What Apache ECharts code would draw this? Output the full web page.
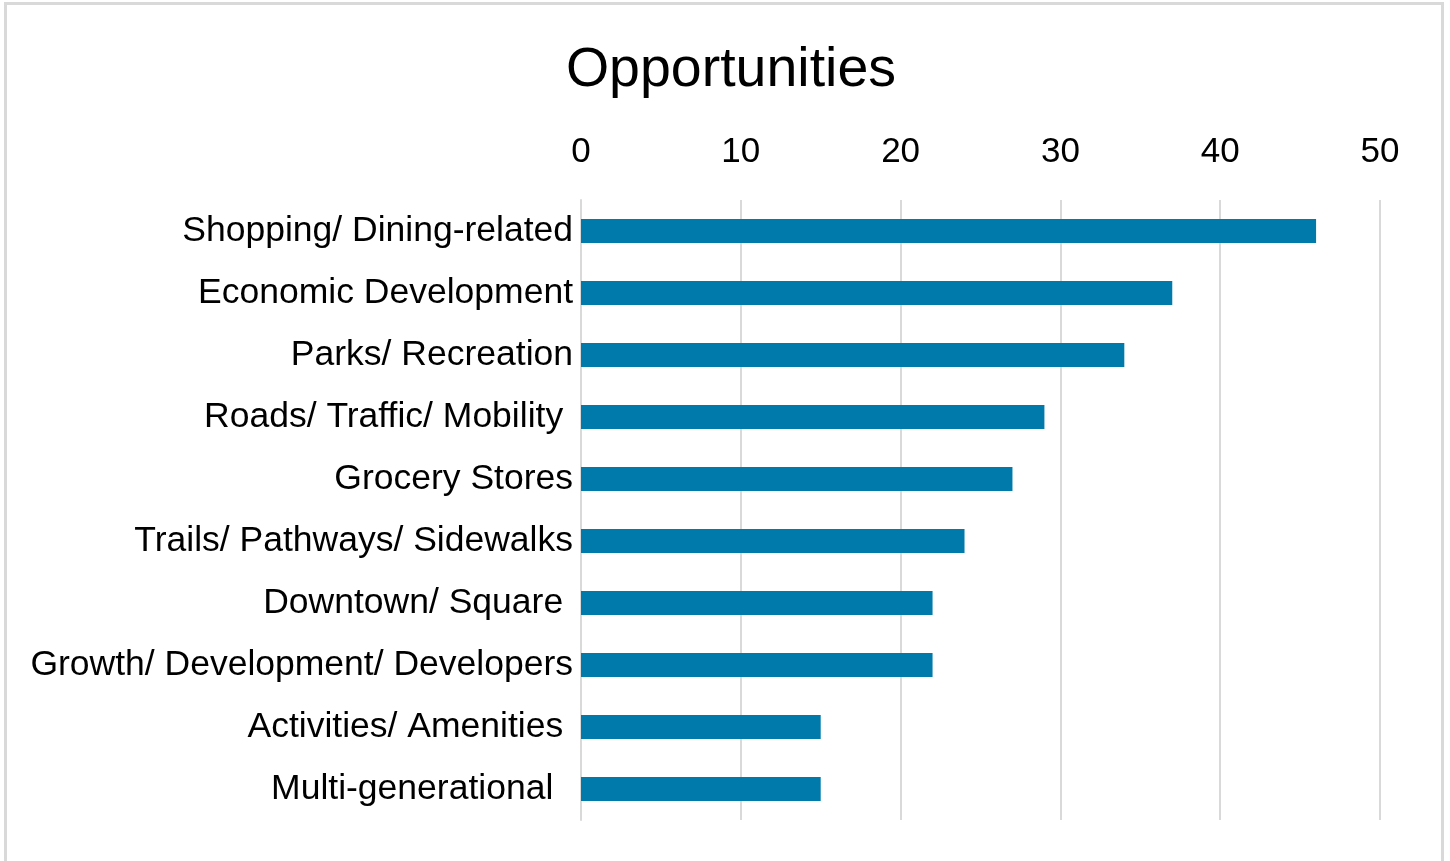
<!DOCTYPE html>
<html>
<head>
<meta charset="utf-8">
<title>Opportunities</title>
<script src="https://cdn.jsdelivr.net/npm/echarts@6/dist/echarts.min.js"></script>
<style>
  html, body { margin: 0; padding: 0; background: #ffffff; }
  #chart { width: 1450px; height: 861px; }
</style>
</head>
<body>
<div id="chart"></div>
<script>
// Survey responses: opportunities mentioned, by topic
const categories = [
  'Shopping/ Dining-related',
  'Economic Development',
  'Parks/ Recreation',
  'Roads/ Traffic/ Mobility ',
  'Grocery Stores',
  'Trails/ Pathways/ Sidewalks',
  'Downtown/ Square ',
  'Growth/ Development/ Developers',
  'Activities/ Amenities ',
  'Multi-generational  '
];
const counts = [46, 37, 34, 29, 27, 24, 22, 22, 15, 15];
const tickValues = [0, 10, 20, 30, 40, 50];

const FONT = "'Liberation Sans', Arial, sans-serif";
const GRID_COLOR = '#d9d9d9';

const chart = echarts.init(document.getElementById('chart'), null, { renderer: 'canvas' });

chart.setOption({
  backgroundColor: '#ffffff',
  animation: false,
  title: {
    text: 'Opportunities',
    left: 726,
    top: 38,
    textAlign: 'center',
    textStyle: { fontFamily: FONT, fontSize: 55.5, fontWeight: 'normal', color: '#000000' }
  },
  graphic: [{
    type: 'rect',
    shape: { x: 5.5, y: 3.5, width: 1437, height: 900 },
    style: { fill: null, stroke: GRID_COLOR, lineWidth: 3 },
    silent: true
  }],
  grid: { left: 581, right: 70, top: 200, bottom: 41, containLabel: false },
  xAxis: {
    type: 'value',
    position: 'top',
    min: tickValues[0],
    max: tickValues[tickValues.length - 1],
    interval: tickValues[1] - tickValues[0],
    axisLine: { show: false },
    axisTick: { show: false },
    splitLine: { show: true, lineStyle: { color: GRID_COLOR, width: 2 } },
    axisLabel: { margin: 30, fontFamily: FONT, fontSize: 35, color: '#000000' }
  },
  yAxis: {
    type: 'category',
    inverse: true,
    data: categories,
    axisLine: { show: true, lineStyle: { color: GRID_COLOR, width: 2 } },
    axisTick: { show: false },
    axisLabel: { margin: 8, fontFamily: FONT, fontSize: 35.5, color: '#000000' }
  },
  series: [{
    type: 'bar',
    data: counts,
    barWidth: 24,
    itemStyle: { color: '#007aab' },
    silent: true
  }]
});
</script>
</body>
</html>
